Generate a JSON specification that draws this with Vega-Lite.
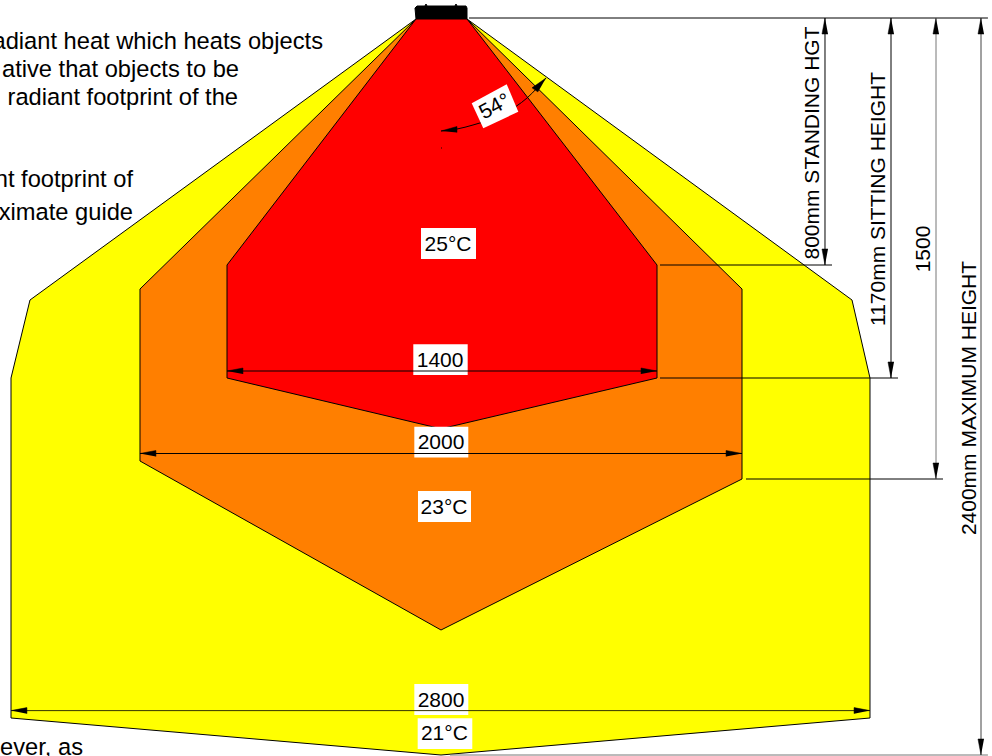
{
"$schema":"https://vega.github.io/schema/vega-lite/v6.json",
"width":992,"height":756,"padding":0,"autosize":{"type":"none"},"background":"white",
"config":{"view":{"stroke":null}},
"datasets":{
"polys":[
{"p":"yellow","i":1,"x":-81.5,"y":3.25},{"p":"yellow","i":2,"x":84.8,"y":3.25},{"p":"yellow","i":3,"x":1339.9,"y":916.5},{"p":"yellow","i":4,"x":1398.5,"y":1170},{"p":"yellow","i":5,"x":1398.5,"y":2275},{"p":"yellow","i":6,"x":0,"y":2395.25},{"p":"yellow","i":7,"x":-1401.8,"y":2275},{"p":"yellow","i":8,"x":-1401.8,"y":1170},{"p":"yellow","i":9,"x":-1339.9,"y":916.5},{"p":"yellow","i":10,"x":-81.5,"y":3.25},
{"p":"orange","i":1,"x":-81.5,"y":3.25},{"p":"orange","i":2,"x":84.8,"y":3.25},{"p":"orange","i":3,"x":981.3,"y":880.75},{"p":"orange","i":4,"x":981.3,"y":1498.25},{"p":"orange","i":5,"x":0,"y":1989},{"p":"orange","i":6,"x":-981.3,"y":1439.75},{"p":"orange","i":7,"x":-981.3,"y":880.75},{"p":"orange","i":8,"x":-81.5,"y":3.25},
{"p":"red","i":1,"x":-81.5,"y":3.25},{"p":"red","i":2,"x":84.8,"y":3.25},{"p":"red","i":3,"x":704.2,"y":802.75},{"p":"red","i":4,"x":704.2,"y":1170},{"p":"red","i":5,"x":0,"y":1335},{"p":"red","i":6,"x":-697.6,"y":1170},{"p":"red","i":7,"x":-697.6,"y":802.75},{"p":"red","i":8,"x":-81.5,"y":3.25},
{"p":"device","i":1,"x":-81.5,"y":3.25},{"p":"device","i":2,"x":-84.8,"y":-32.5},{"p":"device","i":3,"x":-78.2,"y":-39},{"p":"device","i":4,"x":-52.2,"y":-39},{"p":"device","i":5,"x":-48.9,"y":-45.5},{"p":"device","i":6,"x":-45.6,"y":-39},{"p":"device","i":7,"x":45.6,"y":-39},{"p":"device","i":8,"x":48.9,"y":-45.5},{"p":"device","i":9,"x":52.2,"y":-39},{"p":"device","i":10,"x":81.5,"y":-39},{"p":"device","i":11,"x":84.8,"y":-32.5},{"p":"device","i":12,"x":84.8,"y":3.25},
{"p":"box54","i":1,"x":100.1,"y":277.2},{"p":"box54","i":2,"x":214.2,"y":215.5},{"p":"box54","i":3,"x":252,"y":304.5},{"p":"box54","i":4,"x":137.9,"y":358.5},{"p":"box54","i":5,"x":100.1,"y":277.2}
],
"boxes":[
{"x":-65.2,"x2":114.1,"y":682.5,"y2":783.25},
{"x":-90.3,"x2":87,"y":1060.5,"y2":1160.25},
{"x":-87,"x2":89,"y":1328.3,"y2":1428},
{"x":-75,"x2":97.8,"y":1537.25,"y2":1638},
{"x":-87,"x2":89,"y":2164.5,"y2":2265.25},
{"x":-76,"x2":102,"y":2276,"y2":2375.75}
],
"rules":[
{"x":91.3,"x2":1783,"y":0,"y2":0,"c":"#000000"},
{"x":713.9,"x2":1274.7,"y":802.75,"y2":802.75,"c":"#000000"},
{"x":713.9,"x2":1489.8,"y":1170,"y2":1170,"c":"#000000"},
{"x":994.3,"x2":1636.5,"y":1498.25,"y2":1498.25,"c":"#000000"},
{"x":29.3,"x2":1783,"y":2395.25,"y2":2395.25,"c":"#777777"},
{"x":1251.8,"x2":1251.8,"y":0,"y2":802.75,"c":"#000000"},
{"x":1467,"x2":1467,"y":0,"y2":1170,"c":"#000000"},
{"x":1613.7,"x2":1613.7,"y":0,"y2":1498.25,"c":"#777777"},
{"x":1760.4,"x2":1760.4,"y":0,"y2":2395.25,"c":"#444444"},
{"x":-697.6,"x2":704.2,"y":1147.25,"y2":1147.25,"c":"#000000"},
{"x":-981.3,"x2":981.3,"y":1415.4,"y2":1415.4,"c":"#000000"},
{"x":-1401.8,"x2":1398.5,"y":2251,"y2":2251,"c":"#333300"},
{"x":0,"x2":3,"y":422.5,"y2":422.5,"c":"#000000"}
],
"arc":[
{"i":1,"x":0,"y":367.25},{"i":2,"x":52.2,"y":360.75},{"i":3,"x":104.3,"y":347.75},{"i":4,"x":208.6,"y":308.75},{"i":5,"x":280.4,"y":260},{"i":6,"x":342.3,"y":195}
],
"heads":[
{"g":"a1","i":1,"x":1251.8,"y":0},{"g":"a1","i":2,"x":1242,"y":52},{"g":"a1","i":3,"x":1261.6,"y":52},
{"g":"a2","i":1,"x":1251.8,"y":802.75},{"g":"a2","i":2,"x":1242,"y":750.75},{"g":"a2","i":3,"x":1261.6,"y":750.75},
{"g":"a3","i":1,"x":1467,"y":0},{"g":"a3","i":2,"x":1457.2,"y":52},{"g":"a3","i":3,"x":1476.8,"y":52},
{"g":"a4","i":1,"x":1467,"y":1170},{"g":"a4","i":2,"x":1457.2,"y":1118},{"g":"a4","i":3,"x":1476.8,"y":1118},
{"g":"a5","i":1,"x":1613.7,"y":0},{"g":"a5","i":2,"x":1603.9,"y":52},{"g":"a5","i":3,"x":1623.5,"y":52},
{"g":"a6","i":1,"x":1613.7,"y":1498.25},{"g":"a6","i":2,"x":1603.9,"y":1446.25},{"g":"a6","i":3,"x":1623.5,"y":1446.25},
{"g":"a7","i":1,"x":1760.4,"y":0},{"g":"a7","i":2,"x":1750.6,"y":52},{"g":"a7","i":3,"x":1770.2,"y":52},
{"g":"a8","i":1,"x":1760.4,"y":2395.25},{"g":"a8","i":2,"x":1750.6,"y":2343.25},{"g":"a8","i":3,"x":1770.2,"y":2343.25},
{"g":"h1","i":1,"x":-697.6,"y":1147.25},{"g":"h1","i":2,"x":-645.6,"y":1137.5},{"g":"h1","i":3,"x":-645.6,"y":1157},
{"g":"h2","i":1,"x":704.2,"y":1147.25},{"g":"h2","i":2,"x":652.2,"y":1137.5},{"g":"h2","i":3,"x":652.2,"y":1157},
{"g":"h3","i":1,"x":-981.3,"y":1415.4},{"g":"h3","i":2,"x":-929.3,"y":1405.6},{"g":"h3","i":3,"x":-929.3,"y":1425.2},
{"g":"h4","i":1,"x":981.3,"y":1415.4},{"g":"h4","i":2,"x":929.3,"y":1405.6},{"g":"h4","i":3,"x":929.3,"y":1425.2},
{"g":"h5","i":1,"x":-1401.8,"y":2251},{"g":"h5","i":2,"x":-1349.8,"y":2241.2},{"g":"h5","i":3,"x":-1349.8,"y":2260.8},
{"g":"h6","i":1,"x":1398.5,"y":2251},{"g":"h6","i":2,"x":1346.5,"y":2241.2},{"g":"h6","i":3,"x":1346.5,"y":2260.8},
{"g":"c1","i":1,"x":0,"y":367.25},{"g":"c1","i":2,"x":52.2,"y":352.6},{"g":"c1","i":3,"x":52.2,"y":372.1},
{"g":"c2","i":1,"x":342.3,"y":195},{"g":"c2","i":2,"x":296.7,"y":226.9},{"g":"c2","i":3,"x":316.2,"y":240.5}
],
"notes":[
{"t":"adiant heat which heats objects","x":-384.7,"y":78},
{"t":"ative that objects to be","x":-658.5,"y":169},
{"t":"radiant footprint of the","x":-661.8,"y":260},
{"t":"nt footprint of","x":-1004,"y":526.5},
{"t":"ximate guide","x":-1004,"y":633.75},
{"t":"ever, as","x":-1167,"y":2372.5}
],
"labels":[
{"t":"25°C","x":22.8,"y":737.75,"a":0},
{"t":"1400","x":-3,"y":1114.75,"a":0},
{"t":"2000","x":0,"y":1382.2,"a":0},
{"t":"23°C","x":9.8,"y":1592.5,"a":0},
{"t":"2800","x":0,"y":2219.75,"a":0},
{"t":"21°C","x":11,"y":2328,"a":0},
{"t":"54°","x":176,"y":289.25,"a":-28},
{"t":"800mm STANDING HGT","x":1212.7,"y":406.25,"a":-90},
{"t":"1170mm SITTING HEIGHT","x":1427.9,"y":588.25,"a":-90},
{"t":"1500","x":1574.6,"y":750.75,"a":-90},
{"t":"2400mm MAXIMUM HEIGHT","x":1724.5,"y":1235,"a":-90}
]
},
"encoding":{
"x":{"field":"x","type":"quantitative","axis":null,"scale":{"domain":[-1437.66,1796.26],"nice":false,"zero":false}},
"y":{"field":"y","type":"quantitative","axis":null,"scale":{"domain":[-58.5,2398.5],"reverse":true,"nice":false,"zero":false}}
},
"layer":[
{"data":{"name":"notes"},"mark":{"type":"text","align":"right","baseline":"middle","font":"Liberation Sans","fontSize":23.7,"color":"#000000"},"encoding":{"text":{"field":"t"}}},
{"data":{"name":"polys"},"transform":[{"filter":"datum.p=='yellow'"}],"mark":{"type":"line","fill":"#ffff00","stroke":"#000000","strokeWidth":1},"encoding":{"order":{"field":"i"}}},
{"data":{"name":"polys"},"transform":[{"filter":"datum.p=='orange'"}],"mark":{"type":"line","fill":"#ff7f00","stroke":"#000000","strokeWidth":1},"encoding":{"order":{"field":"i"}}},
{"data":{"name":"polys"},"transform":[{"filter":"datum.p=='red'"}],"mark":{"type":"line","fill":"#ff0000","stroke":"#000000","strokeWidth":1},"encoding":{"order":{"field":"i"}}},
{"data":{"name":"polys"},"transform":[{"filter":"datum.p=='device'"}],"mark":{"type":"line","fill":"#000000","stroke":"#000000","strokeWidth":1},"encoding":{"order":{"field":"i"}}},
{"data":{"name":"arc"},"mark":{"type":"line","stroke":"#000000","strokeWidth":1,"interpolate":"monotone"},"encoding":{"order":{"field":"i"}}},
{"data":{"name":"polys"},"transform":[{"filter":"datum.p=='box54'"}],"mark":{"type":"line","fill":"#ffffff","stroke":"#ffffff","strokeWidth":0},"encoding":{"order":{"field":"i"}}},
{"data":{"name":"boxes"},"mark":{"type":"rect","color":"#ffffff"},"encoding":{"x2":{"field":"x2"},"y2":{"field":"y2"}}},
{"data":{"name":"rules"},"mark":{"type":"rule","strokeWidth":1},"encoding":{"x2":{"field":"x2"},"y2":{"field":"y2"},"color":{"field":"c","type":"nominal","scale":null}}},
{"data":{"name":"heads"},"mark":{"type":"line","fill":"#000000","stroke":"#000000","strokeWidth":0.5},"encoding":{"detail":{"field":"g"},"order":{"field":"i"}}},
{"data":{"name":"labels"},"mark":{"type":"text","align":"center","baseline":"middle","font":"Liberation Sans","fontSize":21,"color":"#000000"},"encoding":{"text":{"field":"t"},"angle":{"field":"a","type":"quantitative","scale":null}}}
]
}
